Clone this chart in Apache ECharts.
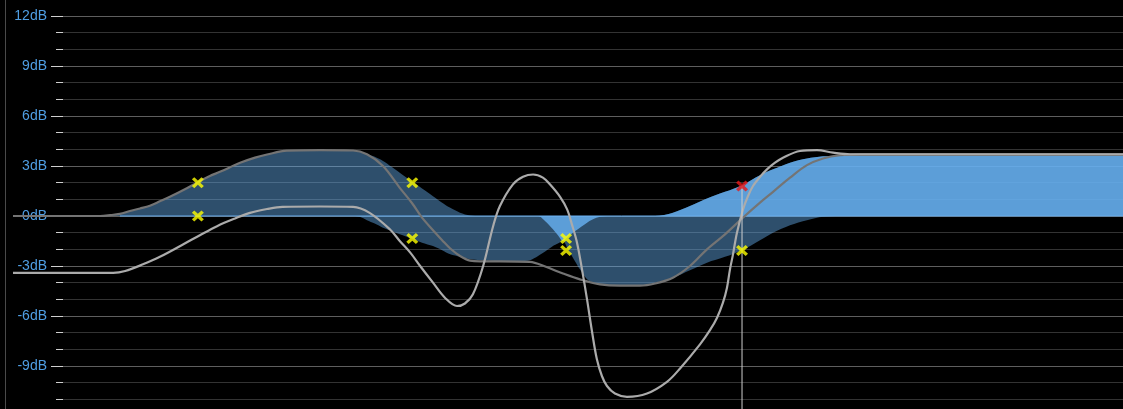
<!DOCTYPE html>
<html><head><meta charset="utf-8">
<script src="https://cdn.jsdelivr.net/npm/echarts@6/dist/echarts.min.js"></script>
<style>html,body{margin:0;padding:0;background:#000;}#c{width:1123px;height:409px;}</style>
</head><body><div id="c"></div>
<script>
// y axis ticks (dB)
const DB_TICKS = [-12, -9, -6, -3, 0, 3, 6, 9, 12];

// Shaded gain range: two edge curves sampled on a common frequency grid (Hz)
const FILL_FREQ = [34.4, 36.6, 38.9, 41.4, 44.1, 46.9, 49.9, 53.1, 58.3, 63.2, 68.1, 72.5, 82.2, 90.2, 97.2, 110, 135, 166,
  173, 181, 190, 200, 211, 222, 240, 255, 273, 289, 304, 323, 344, 366, 414, 469, 499, 525, 551, 576, 594, 613, 632, 652,
  681, 712, 739, 772, 822, 874, 990, 1087, 1215, 1351, 1502, 1680, 1868, 2089, 2266, 2518, 2798, 3092, 3438, 3893, 20000];
const RANGE_A = [0, 0.05, 0.13, 0.3, 0.45, 0.62, 0.88, 1.15, 1.6, 2.03, 2.4, 2.65, 3.19, 3.5, 3.69, 3.92, 3.95, 3.93,
  3.85, 3.7, 3.55, 3.3, 2.95, 2.6, 2.05, 1.65, 1.19, 0.8, 0.49, 0.2, 0.03, 0, 0, 0, 0, 0, -0.35, -0.8, -1.15, -1.5, -2.0, -2.5,
  -3.2, -3.8, -4.0, -4.1, -4.15, -4.2, -4.2, -4.0, -3.7, -3.25, -2.8, -2.45, -2.05, -1.45, -1.0, -0.55, -0.25, -0.05, 0, 0, 0];
const RANGE_B = [0, 0, 0, 0, 0, 0, 0, 0, 0, 0, 0, 0, 0, 0, 0, 0, 0, 0,
  -0.05, -0.25, -0.45, -0.7, -0.9, -1.1, -1.37, -1.6, -1.8, -2.05, -2.3, -2.45, -2.6, -2.65, -2.7, -2.7, -2.65, -2.4, -2.1, -1.8, -1.65, -1.5, -1.25, -1.0,
  -0.7, -0.4, -0.2, -0.05, 0, 0, 0, 0, 0.2, 0.6, 1.05, 1.45, 1.85, 2.45, 2.8, 3.2, 3.45, 3.58, 3.62, 3.62, 3.62];

// Response curve 1 (darker grey)
const CURVE1_FREQ = [20, 34.4, 36.6, 38.9, 41.4, 44.1, 46.9, 49.9, 53.1, 58.3, 63.2, 68.1, 72.5, 82.2, 90.2, 97.2, 110, 135, 166,
  181, 200, 222, 240, 255, 273, 289, 304, 323, 344, 366, 414, 499, 551, 613, 681, 772, 874, 990, 1087, 1215, 1351, 1502, 1680,
  1868, 2089, 2266, 2518, 2798, 3092, 3438, 3893, 20000];
const CURVE1_DB = [0, 0, 0.05, 0.13, 0.3, 0.45, 0.62, 0.88, 1.15, 1.6, 2.03, 2.4, 2.65, 3.19, 3.5, 3.69, 3.92, 3.95, 3.93,
  3.7, 3.0, 1.69, 0.75, -0.1, -0.85, -1.45, -1.95, -2.4, -2.68, -2.72, -2.72, -2.75, -3.05, -3.45, -3.8, -4.1, -4.18, -4.18, -4.05, -3.7, -3.0, -2.0, -1.1,
  -0.15, 0.8, 1.45, 2.3, 3.05, 3.45, 3.65, 3.7, 3.7];

// Response curve 2 (lighter grey)
const CURVE2_FREQ = [20, 37.3, 40.2, 44.9, 49.9, 57.6, 64.0, 71.2, 79.6, 87.4, 97.2, 107, 135, 166, 184, 209, 222, 237, 252, 273,
  294, 317, 333, 350, 373, 397, 414, 449, 478, 509, 541, 565, 602, 629, 648, 669, 690, 712, 734, 757, 781, 806, 847, 913,
  1034, 1171, 1270, 1438, 1530, 1599, 1659, 1701, 1733, 1766, 1810, 1880, 1939, 2000, 2089, 2182, 2294, 2410, 2680,
  2978, 3290, 3658, 20000];
const CURVE2_DB = [-3.41, -3.41, -3.3, -2.9, -2.45, -1.71, -1.15, -0.61, -0.15, 0.19, 0.42, 0.55, 0.57, 0.55, 0.19, -0.81, -1.5, -2.2, -3.0, -4.0,
  -4.9, -5.4, -5.25, -4.7, -3.0, -0.6, 0.6, 1.9, 2.35, 2.49, 2.3, 1.9, 1.15, 0.4, -0.5, -1.6, -3.2, -5.0, -6.9, -8.6, -9.6, -10.2, -10.65, -10.85,
  -10.65, -9.95, -9.15, -7.7, -6.85, -6.1, -5.2, -4.3, -3.2, -2.3, -1.0, 0.4, 1.2, 1.8, 2.35, 2.8, 3.2, 3.5, 3.9,
  3.95, 3.8, 3.7, 3.7];

// Band handles
const MARK_FREQ = [63.2, 240, 625, 1868];
const MARK_UPPER_DB = [2.0, 2.0, -1.35, 1.8];
const MARK_LOWER_DB = [0, -1.35, -2.07, -2.07];
const SELECTED_BAND = 3;

const FILL_RGB = '103,176,240';
const X_PATH = 'path://M0,2L2,0L5,3L8,0L10,2L7,5L10,8L8,10L5,7L2,10L0,8L3,5Z';

const darkPos = [], darkNeg = [], lightPos = [], lightNeg = [];
FILL_FREQ.forEach((f, i) => {
  const a = RANGE_A[i], b = RANGE_B[i];
  darkPos.push([f, Math.max(a, b, 0)]);
  darkNeg.push([f, Math.min(a, b, 0)]);
  lightPos.push([f, Math.max(b, 0)]);
  lightNeg.push([f, (a < 0 && b < 0) ? Math.max(a, b) : 0]);
});
let first = 0;
while (first < FILL_FREQ.length && Math.max(Math.abs(RANGE_A[first]), Math.abs(RANGE_B[first])) < 0.1) first++;
const zeroLine = [[FILL_FREQ[first], 0], [FILL_FREQ[FILL_FREQ.length - 1], 0]];

const yellowPts = [];
MARK_FREQ.forEach((f, i) => {
  if (i !== SELECTED_BAND) yellowPts.push([f, MARK_UPPER_DB[i]]);
  yellowPts.push([f, MARK_LOWER_DB[i]]);
});
const redPts = [[MARK_FREQ[SELECTED_BAND], MARK_UPPER_DB[SELECTED_BAND]]];
const selLine = [[MARK_FREQ[SELECTED_BAND], MARK_UPPER_DB[SELECTED_BAND]], [MARK_FREQ[SELECTED_BAND], DB_TICKS[0]]];

const yMin = DB_TICKS[0], yMax = DB_TICKS[DB_TICKS.length - 1], yStep = DB_TICKS[1] - DB_TICKS[0];

function area(data, alpha, z) {
  return { type: 'line', xAxisIndex: 0, yAxisIndex: 0, data, symbol: 'none', smooth: 0.3,
    lineStyle: { width: 0, opacity: 0 },
    areaStyle: { color: 'rgba(' + FILL_RGB + ',' + alpha + ')', opacity: 1, origin: 'auto' }, z };
}

const chart = echarts.init(document.getElementById('c'), null, { renderer: 'canvas' });
chart.setOption({
  backgroundColor: '#000000',
  animation: false,
  graphic: [{ type: 'line', shape: { x1: 5.5, y1: 0, x2: 5.5, y2: 409 }, style: { stroke: '#4a4a4a', lineWidth: 1 } }],
  grid: [
    { left: 13, right: 0, top: 16, height: 400, outerBoundsMode: 'none', containLabel: false },
    { left: 63, right: 0, top: 16, height: 400, outerBoundsMode: 'none', containLabel: false }
  ],
  xAxis: [
    { gridIndex: 0, type: 'log', logBase: 10, min: 20, max: 20000, show: false },
    { gridIndex: 1, type: 'value', min: 0, max: 1, show: false }
  ],
  yAxis: [
    { gridIndex: 0, type: 'value', min: yMin, max: yMax, show: false },
    { gridIndex: 1, type: 'value', min: yMin, max: yMax, interval: yStep,
      axisLine: { show: false },
      axisTick: { show: true, length: 12, lineStyle: { color: '#cfcfcf', width: 1 } },
      minorTick: { show: true, splitNumber: 3, length: 7, lineStyle: { color: '#cfcfcf', width: 1 } },
      splitLine: { show: true, lineStyle: { color: '#5e5e5e', width: 1 } },
      minorSplitLine: { show: true, lineStyle: { color: '#333333', width: 1 } },
      axisLabel: { margin: 16, color: '#4f9ee3', fontSize: 14, fontFamily: 'Liberation Sans',
        formatter: v => (v === yMin ? '' : v + 'dB') }
    }
  ],
  series: [
    area(darkPos, 0.45, 2),
    area(darkNeg, 0.45, 2),
    area(lightPos, 0.82, 3),
    area(lightNeg, 0.82, 3),
    { type: 'line', xAxisIndex: 0, yAxisIndex: 0, data: zeroLine, symbol: 'none',
      lineStyle: { color: '#68adec', width: 1 }, z: 4 },
    { type: 'line', xAxisIndex: 0, yAxisIndex: 0, data: CURVE1_FREQ.map((f, i) => [f, CURVE1_DB[i]]),
      symbol: 'none', smooth: 0.35, lineStyle: { color: '#747474', width: 2.2 }, z: 5 },
    { type: 'line', xAxisIndex: 0, yAxisIndex: 0, data: CURVE2_FREQ.map((f, i) => [f, CURVE2_DB[i]]),
      symbol: 'none', smooth: 0.35, lineStyle: { color: '#ababab', width: 2.2 }, z: 6 },
    { type: 'line', xAxisIndex: 0, yAxisIndex: 0, data: selLine, symbol: 'none',
      lineStyle: { color: '#cfcfcf', width: 1 }, z: 7 },
    { type: 'scatter', xAxisIndex: 0, yAxisIndex: 0, data: yellowPts, symbol: X_PATH, symbolSize: [12, 11],
      itemStyle: { color: '#ffff00' }, z: 8 },
    { type: 'scatter', xAxisIndex: 0, yAxisIndex: 0, data: redPts, symbol: X_PATH, symbolSize: [12, 11],
      itemStyle: { color: '#e81818' }, z: 8 }
  ]
});
</script></body></html>
